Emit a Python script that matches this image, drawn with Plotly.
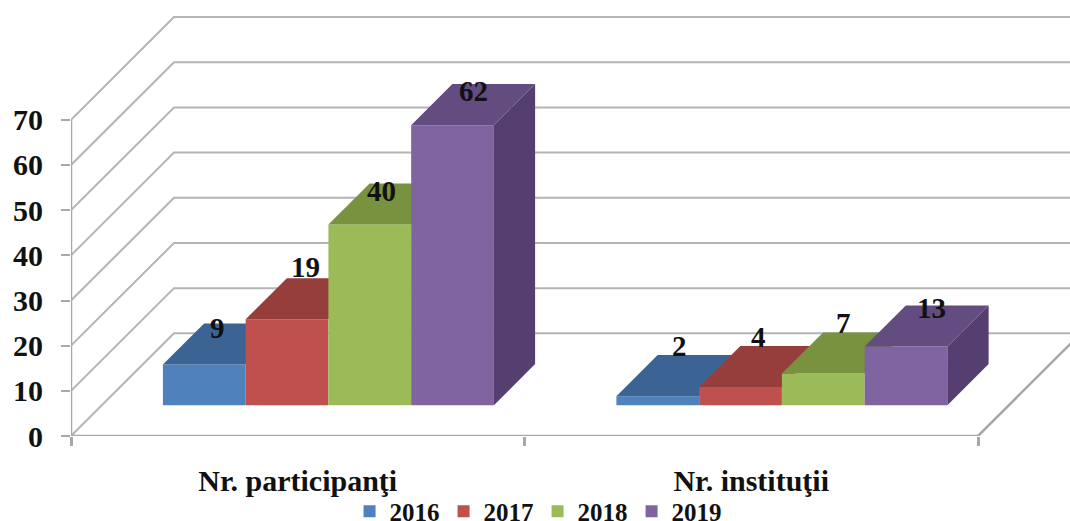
import plotly.graph_objects as go

categories = ["Nr. participanţi", "Nr. instituţii"]
years = ["2016", "2017", "2018", "2019"]
values_2016 = [9, 2]
values_2017 = [19, 4]
values_2018 = [40, 7]
values_2019 = [62, 13]
y_ticks = [0, 10, 20, 30, 40, 50, 60, 70]

front_colors = ["#4F81BD", "#C0504D", "#9BBB59", "#8064A2"]
top_colors = ["#3B6495", "#963E3B", "#78923F", "#634C80"]
side_colors = ["#35597F", "#7F3432", "#647A36", "#553F70"]
GRID = "#B4B4B4"
AXIS = "#A8A8A8"
TEXT = "#111111"
FONT = "Liberation Serif"

# Oblique projection, in axis units
PX_X, PX_Y = 453.5, 314 / 70      # pixels per category, pixels per value unit
DX, DY = 103 / PX_X, 102 / PX_Y   # shift for the full floor depth
BAR_W = 82.75 / PX_X
GROUP_GAP = 61 / PX_X
D0, D1 = 0.30, 0.70               # depth span of the bars

# label nudges from the bar's top front edge (pixels)
label_dx = [[13, 22], [18, 18], [12, 20], [21, 25]]
label_dy = [[37, 50], [52, 50], [34, 51], [34, 38]]

series = [values_2016, values_2017, values_2018, values_2019]
xr = [0, 999 / PX_X]
yr = [0, 433 / PX_Y]

fig = go.Figure()


def project(x, v, d):
    return x + d * DX, v + d * DY


# walls and floor
wx, wy = [], []
for t in y_ticks:
    wx += [0, DX, xr[1], None]
    wy += [t, t + DY, t + DY, None]
fig.add_trace(go.Scatter(x=wx, y=wy, mode="lines", line=dict(color=GRID, width=2),
                         showlegend=False, hoverinfo="skip"))
fig.add_trace(go.Scatter(x=[0, 0, None, 0, 2, 2 + DX], y=[70, 0, None, 0, 0, DY], mode="lines",
                         line=dict(color=AXIS, width=2.5), showlegend=False, hoverinfo="skip"))

annotations = []
for i, (year, vals) in enumerate(zip(years, series)):
    n = i + 2
    xa, ya = f"x{n}", f"y{n}"
    lefts = [c + GROUP_GAP + i * BAR_W for c in range(len(categories))]
    fig.add_trace(go.Bar(
        x=[project(l + BAR_W / 2, 0, D0)[0] for l in lefts],
        y=vals, base=D0 * DY, width=BAR_W, name=year,
        marker=dict(color=front_colors[i], line=dict(width=0)),
        xaxis=xa, yaxis=ya, hoverinfo="skip"))
    for j, (l, v) in enumerate(zip(lefts, vals)):
        r = l + BAR_W
        corners = [project(l, v, D0), project(r, v, D0), project(r, v, D1), project(l, v, D1)]
        fig.add_trace(go.Scatter(
            x=[p[0] for p in corners] + [corners[0][0]],
            y=[p[1] for p in corners] + [corners[0][1]],
            mode="lines", fill="toself", fillcolor=top_colors[i], line=dict(width=0),
            showlegend=False, hoverinfo="skip", xaxis=xa, yaxis=ya))
        if i == len(series) - 1:
            side = [project(r, 0, D0), project(r, v, D0), project(r, v, D1), project(r, 0, D1)]
            fig.add_trace(go.Scatter(
                x=[p[0] for p in side] + [side[0][0]],
                y=[p[1] for p in side] + [side[0][1]],
                mode="lines", fill="toself", fillcolor=side_colors[i], line=dict(width=0),
                showlegend=False, hoverinfo="skip", xaxis=xa, yaxis=ya))
        ax, ay = project(l + BAR_W / 2, v, D0)
        annotations.append(dict(x=ax, y=ay, text=str(v), showarrow=False,
                                xref="x", yref="y", xanchor="center", yanchor="middle",
                                xshift=label_dx[i][j], yshift=label_dy[i][j],
                                font=dict(family=FONT, size=29, color=TEXT, weight="bold")))

layout = dict(
    width=1070, height=521, autosize=False,
    margin=dict(l=71, r=0, t=0, b=84.7, pad=0),
    paper_bgcolor="white", plot_bgcolor="white",
    barmode="overlay", annotations=annotations,
    font=dict(family=FONT, color=TEXT),
    xaxis=dict(range=xr, showgrid=False, zeroline=False, showline=False,
               automargin=False,
               tickmode="array", tickvals=[0.5, 1.5], ticktext=categories,
               ticks="", ticklabelstandoff=24,
               tickfont=dict(family=FONT, size=30, color=TEXT, weight="bold"),
               minor=dict(tickmode="array", tickvals=[0, 1, 2], ticks="outside", ticklen=9,
                          tickwidth=2.5, tickcolor=AXIS)),
    yaxis=dict(range=yr, showgrid=False, zeroline=False, showline=False,
               automargin=False,
               tickmode="array", tickvals=y_ticks, ticks="outside", ticklen=9,
               tickwidth=2, tickcolor=AXIS, ticklabelstandoff=12,
               tickfont=dict(family=FONT, size=30, color=TEXT, weight="bold")),
    legend=dict(orientation="h", xref="container", x=0.5024, xanchor="center",
                yref="container", y=0.018, yanchor="middle",
                entrywidth=49, entrywidthmode="pixels",
                font=dict(family=FONT, size=25, color=TEXT, weight="bold"),
                bgcolor="rgba(0,0,0,0)"),
)
for n in range(2, 6):
    layout[f"xaxis{n}"] = dict(range=xr, overlaying="x", visible=False)
    layout[f"yaxis{n}"] = dict(range=yr, overlaying="y", visible=False)
fig.update_layout(**layout)

fig.write_html("out.html", config=dict(displayModeBar=False),
               post_script="document.body.style.margin='0';")
